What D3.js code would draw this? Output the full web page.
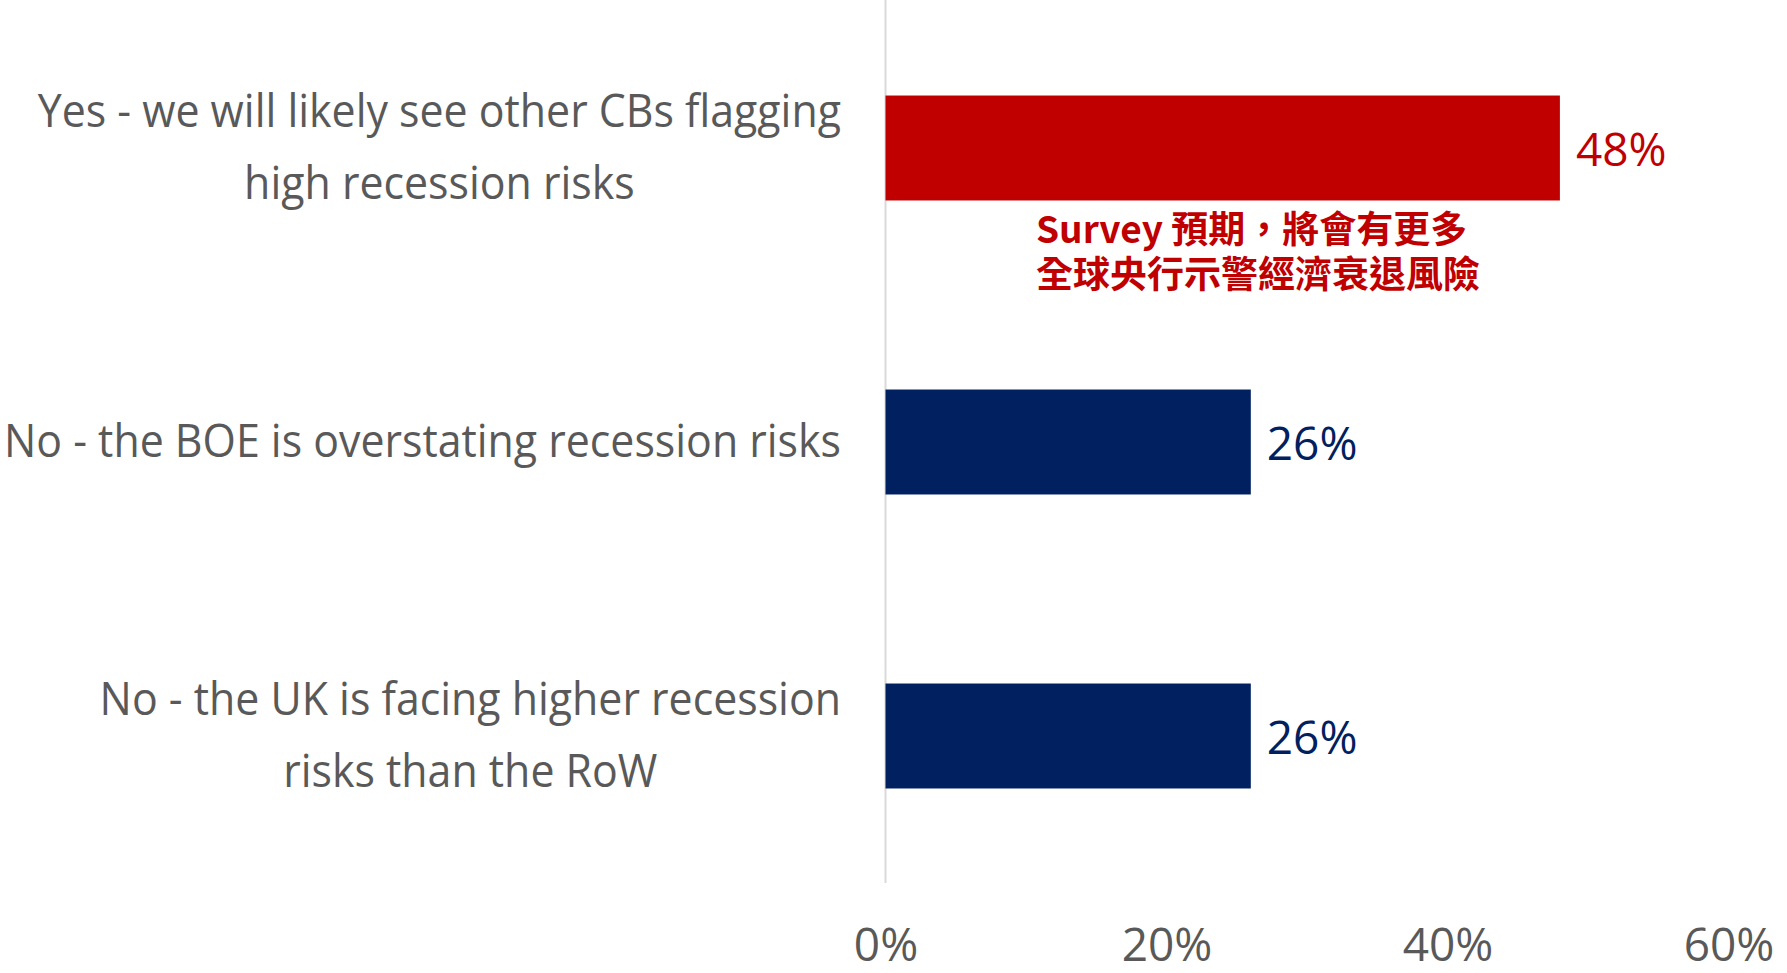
<!DOCTYPE html>
<html>
<head>
<meta charset="utf-8">
<script src="https://cdn.jsdelivr.net/npm/d3@7"></script>
<style>
  html, body { margin: 0; padding: 0; background: #ffffff; }
  svg { display: block; }
</style>
</head>
<body>
<svg id="chart" width="1787" height="973"></svg>
<script>
// ---- data ----
const categories = [
  "Yes - we will likely see other CBs flagging\nhigh recession risks",
  "No - the BOE is overstating recession risks",
  "No - the UK is facing higher recession\nrisks than the RoW"
];
const values = [0.48, 0.26, 0.26];
const tickValues = [0, 0.2, 0.4, 0.6];
const annotationLines = ["Survey 預期，將會有更多", "全球央行示警經濟衰退風險"];

// ---- styles ----
const barColors = ["#c00000", "#002060", "#002060"];
const labelColor = "#595959";
const latinFont = "'Open Sans', 'Noto Sans', sans-serif";
const cjkFont = "'Noto Sans CJK TC', 'Noto Sans CJK SC', sans-serif";

const svg = d3.select("#chart");

const x = d3.scaleLinear().domain([0, 0.6]).range([885.5, 1728.5]);
const y = d3.scaleBand().domain(categories).range([1, 883])
  .paddingInner(0.643).paddingOuter(0.3215);

// vertical axis line
const yAxis = d3.axisLeft(y).tickSize(0).tickFormat("");
svg.append("g")
  .attr("transform", `translate(${x(0)},0)`)
  .call(yAxis)
  .call(g => g.select(".domain").attr("d", `M0,0V883`).attr("stroke", "#d9d9d9").attr("stroke-width", 2));

// bottom tick labels
const xAxis = d3.axisBottom(x).tickValues(tickValues).tickSize(0).tickPadding(45)
  .tickFormat(d3.format(".0%"));
svg.append("g")
  .attr("transform", "translate(0,883)")
  .call(xAxis)
  .call(g => g.select(".domain").remove())
  .call(g => g.selectAll("text")
    .attr("font-family", latinFont)
    .attr("font-size", 46)
    .attr("fill", labelColor));

// bars
svg.append("g").selectAll("rect")
  .data(categories)
  .join("rect")
  .attr("x", x(0))
  .attr("y", d => y(d))
  .attr("width", (d, i) => x(values[i]) - x(0))
  .attr("height", y.bandwidth())
  .attr("fill", (d, i) => barColors[i]);

// value labels
svg.append("g").selectAll("text")
  .data(categories)
  .join("text")
  .attr("x", (d, i) => x(values[i]) + 16)
  .attr("y", d => y(d) + y.bandwidth() / 2 + 18)
  .attr("font-family", latinFont)
  .attr("font-size", 46)
  .attr("fill", (d, i) => barColors[i])
  .text((d, i) => d3.format(".0%")(values[i]));

// category labels (multi-line, block right-aligned, lines centred)
const labelG = svg.append("g")
  .attr("font-family", latinFont)
  .attr("font-size", 46)
  .attr("fill", labelColor);

const lineHeight = 72;
const rightEdge = 841;
const groups = categories.map(c => {
  const lines = c.split("\n");
  const cy = y(c) + y.bandwidth() / 2;
  const texts = lines.map((ln, i) =>
    labelG.append("text")
      .attr("y", cy + 15 + (i - (lines.length - 1) / 2) * lineHeight)
      .attr("text-anchor", "middle")
      .text(ln));
  return texts;
});
// horizontal condensing to mimic the narrower original face
const refNode = groups[1][0].node();
const k = 837 / refNode.getComputedTextLength();
groups.forEach(texts => {
  const widths = texts.map(t => t.node().getComputedTextLength() * k);
  const maxW = d3.max(widths);
  texts.forEach((t, i) => {
    t.attr("x", rightEdge - maxW / 2)
     .attr("textLength", widths[i])
     .attr("lengthAdjust", "spacingAndGlyphs");
  });
});

// annotation (one text element, two lines)
const ann = svg.append("text")
  .attr("x", 1036)
  .attr("y", 243)
  .attr("font-family", cjkFont)
  .attr("font-weight", "bold")
  .attr("font-size", 37)
  .attr("fill", "#c00000");
ann.selectAll("tspan")
  .data(annotationLines)
  .join("tspan")
  .attr("x", 1036)
  .attr("dy", (d, i) => i === 0 ? 0 : 45)
  .text(d => d);
</script>
</body>
</html>
